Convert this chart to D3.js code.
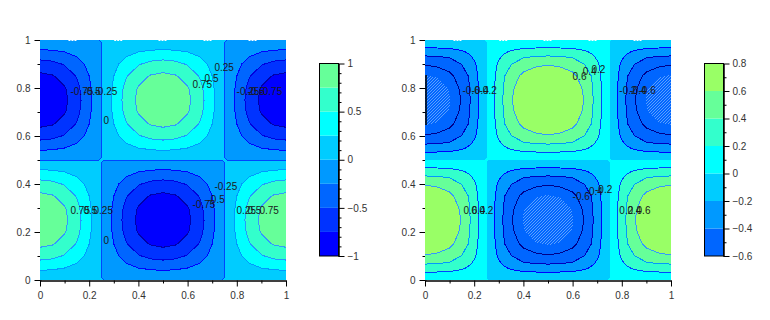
<!DOCTYPE html>
<html>
<head>
<meta charset="utf-8">
<style>
  body { margin: 0; background: #fff; }
  text { font-family: "Liberation Sans", Arial, sans-serif; font-size: 10px; }
</style>
<script src="https://cdn.jsdelivr.net/npm/d3@7"></script>
</head>
<body>
<script>
// Distance from the centre of a lobe at which the values were read
const offsets = [0, 0.05, 0.1, 0.15, 0.18, 0.2, 0.22, 0.24, 0.25];

const lobeLeft = [
  [1, 0.95, 0.81, 0.59, 0.43, 0.31, 0.19, 0.06, 0],
  [0.95, 0.9, 0.77, 0.56, 0.41, 0.29, 0.18, 0.06, 0],
  [0.81, 0.77, 0.65, 0.48, 0.34, 0.25, 0.15, 0.05, 0],
  [0.59, 0.56, 0.48, 0.35, 0.25, 0.18, 0.11, 0.04, 0],
  [0.43, 0.41, 0.34, 0.25, 0.18, 0.13, 0.08, 0.03, 0],
  [0.31, 0.29, 0.25, 0.18, 0.13, 0.1, 0.06, 0.02, 0],
  [0.19, 0.18, 0.15, 0.11, 0.08, 0.06, 0.03, 0.01, 0],
  [0.06, 0.06, 0.05, 0.04, 0.03, 0.02, 0.01, 0.004, 0],
  [0, 0, 0, 0, 0, 0, 0, 0, 0]
];
const lobeRight = [
  [0.82, 0.78, 0.71, 0.59, 0.42, 0.31, 0.19, 0.06, 0],
  [0.78, 0.76, 0.69, 0.57, 0.41, 0.3, 0.18, 0.06, 0],
  [0.71, 0.69, 0.64, 0.52, 0.38, 0.28, 0.17, 0.06, 0],
  [0.59, 0.57, 0.52, 0.39, 0.3, 0.23, 0.14, 0.05, 0],
  [0.42, 0.41, 0.38, 0.3, 0.23, 0.17, 0.11, 0.04, 0],
  [0.31, 0.3, 0.28, 0.23, 0.17, 0.14, 0.09, 0.03, 0],
  [0.19, 0.18, 0.17, 0.14, 0.11, 0.09, 0.06, 0.02, 0],
  [0.06, 0.06, 0.06, 0.05, 0.04, 0.03, 0.02, 0.01, 0],
  [0, 0, 0, 0, 0, 0, 0, 0, 0]
];

// Fill bands: lower limit of each band + colour
const bandsLeft = [-1, -0.75, -0.5, -0.25, 0, 0.25, 0.5, 0.75];
const colorsLeft = ["#0000ff", "#0033ff", "#0066ff", "#0099ff", "#00ccff", "#00ffff", "#33ffcc", "#66ff99"];
const bandsRight = [-0.6, -0.4, -0.2, 0, 0.2, 0.4, 0.6];
const colorsRight = ["#0066ff", "#0099ff", "#00ccff", "#00ffff", "#33ffcc", "#66ff99", "#99ff66"];
// below this value the right plot has no fill, only the hatch
const holeRight = -0.7;

// Contour lines
const linesLeft = [-0.75, -0.5, -0.25, 0, 0.25, 0.5, 0.75];
const lineColorsLeft = ["#0000aa", "#0000dd", "#0000ff", "#0044ff", "#0099ff", "#2299ff", "#3399ff"];
const linesRight = [-0.6, -0.4, -0.2, 0.2, 0.4, 0.6];
const lineColorsRight = ["#000088", "#0000bb", "#0000ff", "#0044ff", "#0099ff", "#3399ff"];

// Contour labels: text, x, y in data units
const labelsLeft = [
  ["-0.75", 0.124, 0.7875], ["-0.5", 0.177, 0.7875], ["-0.25", 0.2215, 0.7875], ["0", 0.258, 0.664],
  ["0.25", 0.709, 0.8875], ["0.5", 0.669, 0.839], ["0.75", 0.62, 0.814],
  ["-0.25", 0.799, 0.7875], ["-0.5", 0.8435, 0.7875], ["-0.75", 0.892, 0.7875],
  ["0.75", 0.124, 0.289], ["0.5", 0.177, 0.289], ["0.25", 0.2175, 0.289], ["0", 0.258, 0.164],
  ["-0.25", 0.709, 0.389], ["-0.5", 0.681, 0.335], ["-0.75", 0.62, 0.315],
  ["0.25", 0.799, 0.289], ["0.5", 0.8435, 0.289], ["0.75", 0.892, 0.289]
];
const labelsRight = [
  ["-0.6", 0.1524, 0.79], ["-0.4", 0.189, 0.79], ["-0.2", 0.2215, 0.79],
  ["0.6", 0.6, 0.85], ["0.4", 0.641, 0.868], ["0.2", 0.677, 0.876],
  ["-0.2", 0.79, 0.79], ["-0.4", 0.831, 0.79], ["-0.6", 0.868, 0.79],
  ["0.6", 0.1565, 0.289], ["0.4", 0.189, 0.289], ["0.2", 0.2215, 0.289],
  ["-0.6", 0.6, 0.35], ["-0.4", 0.653, 0.368], ["-0.2", 0.691, 0.376],
  ["0.2", 0.79, 0.289], ["0.4", 0.8232, 0.289], ["0.6", 0.86, 0.289]
];

// Tick values
const axisTicks = [0, 0.2, 0.4, 0.6, 0.8, 1];
const axisMinor = [0.1, 0.3, 0.5, 0.7, 0.9];
const barTicksLeft = [-1, -0.5, 0, 0.5, 1];
const barMinorLeft = [-0.9, -0.8, -0.7, -0.6, -0.4, -0.3, -0.2, -0.1, 0.1, 0.2, 0.3, 0.4, 0.6, 0.7, 0.8, 0.9];
const barTicksRight = [-0.6, -0.4, -0.2, 0, 0.2, 0.4, 0.6, 0.8];
const barMinorRight = [-0.5, -0.3, -0.1, 0.1, 0.3, 0.5, 0.7];
// small white dashes on the top edge of both plots
const topDashes = [0.134, 0.32, 0.5, 0.683, 0.866];

const width = 770;
const height = 320;
const plotTop = 40;
const plotBottom = 280;
const plotWidth = 246;
const barTop = 63.5;
const barBottom = 256;
const barWidth = 19;

const svg = d3.select("body").append("svg")
  .attr("width", width)
  .attr("height", height)
  .style("display", "block");

// Hatch used where the right plot has no fill
const pattern = svg.append("defs").append("pattern")
  .attr("id", "hatch")
  .attr("width", 3)
  .attr("height", 3)
  .attr("patternUnits", "userSpaceOnUse");
pattern.append("rect").attr("width", 3).attr("height", 3).attr("fill", "#0066ff");
pattern.append("path").attr("d", "M0 3L3 0").attr("stroke", "#5a9fff").attr("stroke-width", 1);

// Node positions along each axis, and which offset each one uses
const back = offsets.slice(0, -1).reverse();
const fwd = offsets.slice(1);
const xNodes = [...offsets, ...back.map((d) => 0.5 - d), ...fwd.map((d) => 0.5 + d), ...back.map((d) => 1 - d)];
const yNodes = [...offsets.slice().reverse().map((d) => 0.25 - d), ...fwd.map((d) => 0.25 + d), ...back.map((d) => 0.75 - d), ...fwd.map((d) => 0.75 + d)];
const lobeIndex = (d) => offsets.indexOf(d);
const xIndex = [...offsets, ...back, ...fwd, ...back].map(lobeIndex);
const yIndex = [...offsets.slice().reverse(), ...fwd, ...back, ...fwd].map(lobeIndex);

function tileLobe(lobe) {
  const values = [];
  yNodes.forEach((yn, j) => {
    xNodes.forEach((xn, i) => {
      const sx = xn < 0.25 || xn > 0.75 ? 1 : -1;
      const sy = yn < 0.5 ? 1 : -1;
      values.push(sx * sy * lobe[yIndex[j]][xIndex[i]]);
    });
  });
  return values;
}

function styleAxis(g) {
  g.selectAll(".domain, .tick line").attr("stroke", "#000");
  g.selectAll("text").attr("fill", "#333").style("font-size", "10px");
}

function drawPlot(opts) {
  const left = opts.left;
  const x = d3.scaleLinear().domain([0, 1]).range([left, left + plotWidth]);
  const y = d3.scaleLinear().domain([0, 1]).range([plotBottom, plotTop]);
  const nx = xNodes.length;
  const ny = yNodes.length;

  // d3.contours puts a grid value at i + 0.5, the outer half cell is clamped on the frame
  const nodeX = d3.scaleLinear().domain(xNodes.map((d, i) => i + 0.5)).range(xNodes).clamp(true);
  const nodeY = d3.scaleLinear().domain(yNodes.map((d, i) => i + 0.5)).range(yNodes).clamp(true);
  const path = d3.geoPath(d3.geoTransform({
    point(a, b) { this.stream.point(x(nodeX(a)), y(nodeY(b))); }
  }));
  const contours = d3.contours().size([nx, ny]);
  const values = tileLobe(opts.lobe);

  if (opts.hatch) {
    svg.append("rect")
      .attr("x", x(0)).attr("y", y(1))
      .attr("width", plotWidth).attr("height", plotBottom - plotTop)
      .attr("fill", "url(#hatch)");
  }

  // Axes go first, the fill hides the y axis line
  const xAxis = svg.append("g").attr("transform", `translate(0,${plotBottom + 0.5})`);
  xAxis.call(d3.axisBottom(x).tickValues(axisTicks).tickFormat(d3.format("~g")).tickSize(6).tickSizeOuter(0).tickPadding(5)).call(styleAxis);
  xAxis.append("g").call(d3.axisBottom(x).tickValues(axisMinor).tickFormat("").tickSize(3).tickSizeOuter(0)).call(styleAxis);

  const yAxis = svg.append("g").attr("transform", `translate(${left + 0.5},0)`);
  yAxis.call(d3.axisLeft(y).tickValues(axisTicks).tickFormat(d3.format("~g")).tickSize(6).tickSizeOuter(0).tickPadding(4)).call(styleAxis);
  yAxis.append("g").call(d3.axisLeft(y).tickValues(axisMinor).tickFormat("").tickSize(3).tickSizeOuter(0)).call(styleAxis);

  // Filled bands, lowest first
  opts.fillLevels.forEach((level, i) => {
    svg.append("path")
      .datum(contours.contour(values, level))
      .attr("fill", opts.colors[i])
      .attr("shape-rendering", "crispEdges")
      .attr("d", path);
  });

  // Contour lines, segments lying on the frame are dropped
  opts.lines.forEach((level, i) => {
    const shape = contours.contour(values, level);
    const segments = [];
    shape.coordinates.forEach((polygon) => {
      polygon.forEach((ring) => {
        d3.pairs(ring).forEach(([a, b]) => {
          const onFrame =
            (a[0] <= 0.5 && b[0] <= 0.5) || (a[0] >= nx - 0.5 && b[0] >= nx - 0.5) ||
            (a[1] <= 0.5 && b[1] <= 0.5) || (a[1] >= ny - 0.5 && b[1] >= ny - 0.5);
          if (!onFrame) segments.push([a, b]);
        });
      });
    });
    svg.append("path")
      .datum({ type: "MultiLineString", coordinates: segments })
      .attr("fill", "none")
      .attr("stroke", opts.lineColors[i])
      .attr("stroke-width", 1)
      .attr("shape-rendering", "crispEdges")
      .attr("d", path);
  });

  // White dashes on the top edge
  svg.selectAll(null)
    .data(topDashes)
    .enter()
    .append("line")
    .attr("x1", (d) => x(d) - 4.5)
    .attr("x2", (d) => x(d) + 4.5)
    .attr("y1", plotTop + 0.5)
    .attr("y2", plotTop + 0.5)
    .attr("stroke", "#fff")
    .attr("stroke-dasharray", "2,1");

  // Contour labels
  svg.selectAll(null)
    .data(opts.labels)
    .enter()
    .append("text")
    .attr("x", (d) => x(d[1]))
    .attr("y", (d) => y(d[2]))
    .attr("dy", "0.35em")
    .attr("fill", "#1a1a1a")
    .text((d) => d[0]);

  // Colour bar
  const barY = d3.scaleLinear().domain(opts.barDomain).range([barBottom, barTop]);
  const edges = opts.bands.concat(opts.barDomain[1]);
  svg.selectAll(null)
    .data(d3.pairs(edges))
    .enter()
    .append("rect")
    .attr("x", opts.barLeft)
    .attr("y", (d) => barY(d[1]))
    .attr("width", barWidth)
    .attr("height", (d) => barY(d[0]) - barY(d[1]))
    .attr("fill", (d, i) => opts.colors[i]);
  svg.append("rect")
    .attr("x", opts.barLeft)
    .attr("y", barTop)
    .attr("width", barWidth)
    .attr("height", barBottom - barTop)
    .attr("fill", "none")
    .attr("stroke", "#000");

  const barAxis = svg.append("g").attr("transform", `translate(${opts.barLeft + barWidth},0)`);
  barAxis.call(d3.axisRight(barY).tickValues(opts.barTicks).tickFormat(d3.format("~g")).tickSize(6).tickSizeOuter(0).tickPadding(3)).call(styleAxis);
  barAxis.append("g").call(d3.axisRight(barY).tickValues(opts.barMinor).tickFormat("").tickSize(3).tickSizeOuter(0)).call(styleAxis);
}

drawPlot({
  left: 40,
  lobe: lobeLeft,
  fillLevels: bandsLeft,
  colors: colorsLeft,
  lines: linesLeft,
  lineColors: lineColorsLeft,
  labels: labelsLeft,
  barLeft: 319.5,
  barDomain: [-1, 1],
  bands: bandsLeft,
  barTicks: barTicksLeft,
  barMinor: barMinorLeft,
  hatch: false
});

drawPlot({
  left: 425,
  lobe: lobeRight,
  fillLevels: [holeRight].concat(bandsRight.slice(1)),
  colors: colorsRight,
  lines: linesRight,
  lineColors: lineColorsRight,
  labels: labelsRight,
  barLeft: 704.5,
  barDomain: [-0.6, 0.8],
  bands: bandsRight,
  barTicks: barTicksRight,
  barMinor: barMinorRight,
  hatch: true
});
</script>
</body>
</html>
